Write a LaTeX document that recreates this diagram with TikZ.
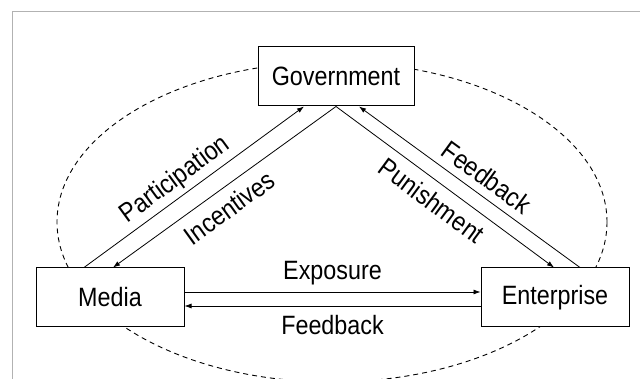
\documentclass[tikz,border=0pt]{standalone}
\usepackage{fontspec}
\setmainfont{Liberation Sans}[FakeStretch=0.88]
\usetikzlibrary{arrows.meta}

\begin{document}
\begin{tikzpicture}[x=1pt,y=-1pt,font=\fontsize{26.5}{30}\selectfont,
        box/.style={draw,fill=white,line width=1pt,minimum height=59pt,inner sep=0pt},
        flow/.style={-{Latex[length=7pt,width=5pt]},line width=0.8pt},
        lbl/.style={sloped,inner sep=0pt}]
    \useasboundingbox (0,0) rectangle (640,379);
    \draw[black!30,line width=1pt] (12,379) -- (12,12) -- (640,12);
    \draw[dashed,dash pattern=on 5pt off 4pt,line width=0.9pt] (332,222) ellipse [x radius=275,y radius=160];

    \node[box,minimum width=156pt] (gov) at (336,76.5) {Government};
    \node[box,minimum width=148pt] (media) at (110,297.5) {Media};
    \node[box,minimum width=148pt] (ent) at (555,297.5) {Enterprise};

    \draw[flow] ([xshift=-26pt]media.north) -- node[lbl,above=4pt,pos=0.46] {Participation} ([xshift=-32pt]gov.south);
    \draw[flow] (gov.south) -- node[lbl,below=9.5pt,pos=0.53] {Incentives} ([xshift=3pt]media.north);
    \draw[flow] (gov.south) -- node[lbl,below=8.5pt,pos=0.49] {Punishment} ([xshift=-1pt]ent.north);
    \draw[flow] ([xshift=25pt]ent.north) -- node[lbl,above=8pt,pos=0.47] {Feedback} ([xshift=23pt]gov.south);
    \draw[flow] ([yshift=5.5pt]media.east) -- node[lbl,above=6.5pt] {Exposure} ([yshift=5.5pt]ent.west);
    \draw[flow] ([yshift=-8.5pt]ent.west) -- node[lbl,below=9pt] {Feedback} ([yshift=-8.5pt]media.east);
\end{tikzpicture}
\end{document}
